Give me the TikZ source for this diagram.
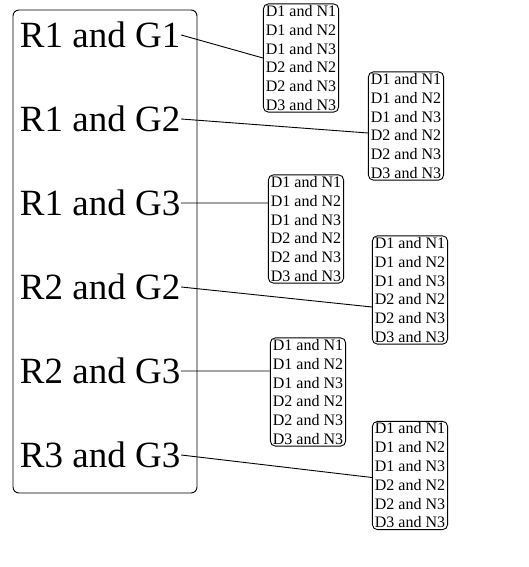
\documentclass[tikz,border=0pt]{standalone}
\usepackage{fontspec}
\setmainfont{Liberation Serif}
\newcommand{\dnlist}{D1 and N1\\D1 and N2\\D1 and N3\\D2 and N2\\D2 and N3\\D3 and N3}
\begin{document}
\begin{tikzpicture}[x=1pt,y=-1pt,line width=0.9pt,
  pair/.style={anchor=west,inner sep=0.5pt,font=\fontsize{37}{40}\selectfont},
  choices/.style={draw,rounded corners=5pt,align=center,inner xsep=2.5pt,inner ysep=1.5pt,font=\fontsize{16}{18.8}\selectfont}]
  \useasboundingbox (0,0) rectangle (528,567);
  \node[draw,rounded corners=6pt,minimum width=184pt,minimum height=483pt,inner sep=0pt] (panel) at (105,251.5) {};
  \node[pair] (R1G1) at (19,35) {R1 and G1};
  \node[pair] (R1G2) at (19,119) {R1 and G2};
  \node[pair] (R1G3) at (19,203) {R1 and G3};
  \node[pair] (R2G2) at (19,287) {R2 and G2};
  \node[pair] (R2G3) at (19,371) {R2 and G3};
  \node[pair] (R3G3) at (19,455) {R3 and G3};
  \node[choices] (C1) at (301,58) {\dnlist};
  \node[choices] (C2) at (406,126) {\dnlist};
  \node[choices] (C3) at (306,229) {\dnlist};
  \node[choices] (C4) at (410,290) {\dnlist};
  \node[choices] (C5) at (308,392) {\dnlist};
  \node[choices] (C6) at (410,475.5) {\dnlist};
  \draw
  (R1G1.east) -- (C1.west)
  (R1G2.east) -- ([yshift=-7pt]C2.west)
  (R1G3.east) -- (R1G3.east -| C3.west)
  (R2G2.east) -- ([yshift=-17pt]C4.west)
  (R2G3.east) -- (R2G3.east -| C5.west)
  (R3G3.east) -- ([yshift=-2pt]C6.west);
\end{tikzpicture}
\end{document}
